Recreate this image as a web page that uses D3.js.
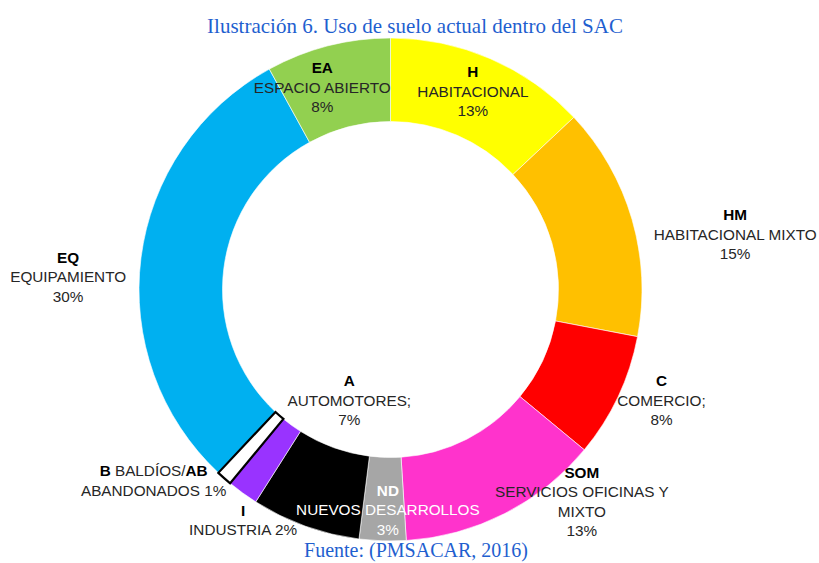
<!DOCTYPE html>
<html>
<head>
<meta charset="utf-8">
<script src="https://cdn.jsdelivr.net/npm/d3@7"></script>
<style>
  body { margin: 0; background: #fff; }
  svg { display: block; }
</style>
</head>
<body>
<svg id="drawing_region"></svg>
<script>
// data, clockwise from the top
const codes  = ["H", "HM", "C", "SOM", "ND", "A", "I", "AB", "EQ", "EA"];
const names  = ["HABITACIONAL", "HABITACIONAL MIXTO", "COMERCIO;", "SERVICIOS OFICINAS Y|MIXTO",
                "NUEVOS DESARROLLOS", "AUTOMOTORES;", "INDUSTRIA", "BALDÍOS/|ABANDONADOS", "EQUIPAMIENTO", "ESPACIO ABIERTO"];
const values = [13, 15, 8, 13, 3, 7, 2, 1, 30, 8];
const colors = ["#FFFF00", "#FFC000", "#FF0000", "#FF33CC", "#A6A6A6", "#000000", "#9933FF", "#FFFFFF", "#00B0F0", "#92D050"];

const title  = "Ilustración 6. Uso de suelo actual dentro del SAC";
const source = "Fuente: (PMSACAR, 2016)";

const width = 819, height = 563;
const cx = 390.5, cy = 289.5;
const outer = 251.5, inner = 168;

// label nudges from slice centroid (first line), hand tuned like the excel layout
const nudge = [[-1,-25],[143,-16],[81,2],[96,-4],[4,-9],[30,-106],[-24,51],[-98,24],[-114,-6],[-16,-18]];

const data = codes.map((c, i) => ({ code: c, name: names[i], value: values[i], color: colors[i] }));

const svg = d3.select('#drawing_region')
    .attr('width', width)
    .attr('height', height);

svg.append('text')
    .attr('x', 415).attr('y', 33)
    .attr('text-anchor', 'middle')
    .style('font-family', '"Liberation Serif", "Times New Roman", serif')
    .style('font-size', '21px')
    .attr('fill', '#1F5FCF')
    .text(title);

svg.append('text')
    .attr('x', 416).attr('y', 557)
    .attr('text-anchor', 'middle')
    .style('font-family', '"Liberation Serif", "Times New Roman", serif')
    .style('font-size', '20px')
    .attr('fill', '#1F5FCF')
    .text(source);

const chart = svg.append('g')
    .attr('transform', `translate(${cx}, ${cy})`);

const pie = d3.pie().value(d => d.value).sort(null);
const arc = d3.arc().innerRadius(inner).outerRadius(outer);
const mid = d3.arc().innerRadius(210).outerRadius(210);

const arcs = pie(data);

chart.selectAll('path')
    .data(arcs)
    .enter()
    .append('path')
    .attr('d', arc)
    .attr('fill', d => d.data.color)
    .attr('stroke', d => d.data.code === 'AB' ? '#000' : '#fff')
    .style('stroke-width', d => d.data.code === 'AB' ? '2.2px' : '0.6px');

// draw the boxed slice last so its border is on top
chart.selectAll('path').filter(d => d.data.code === 'AB').raise();

const font = '"Liberation Sans", Arial, sans-serif';
const lh = 19.5;

const labels = chart.selectAll('.lab')
    .data(arcs)
    .enter()
    .append('text')
    .attr('class', 'lab')
    .attr('text-anchor', 'middle')
    .style('font-family', font)
    .style('font-size', '15.3px')
    .attr('fill', d => d.data.code === 'ND' ? '#fff' : '#262626')
    .attr('transform', (d, i) => {
        const c = mid.centroid(d);
        return `translate(${c[0] + nudge[i][0]}, ${c[1] + nudge[i][1]})`;
    });

labels.each(function(d) {
    const t = d3.select(this);
    const pct = d.data.value + '%';
    const parts = d.data.name.split('|');
    let lines;
    if (d.data.code === 'AB') {
        // B BALDÍOS/AB  /  ABANDONADOS 1%
        lines = [[['B', true], [' ' + parts[0], false], ['AB', true]], [[parts[1] + ' ' + pct, false]]];
    } else if (d.data.code === 'I') {
        lines = [[[d.data.code, true]], [[parts[0] + ' ' + pct, false]]];
    } else {
        lines = [[[d.data.code, true]]].concat(parts.map(p => [[p, false]])).concat([[[pct, false]]]);
    }
    lines.forEach((ln, k) => {
        ln.forEach((seg, j) => {
            const ts = t.append('tspan')
                .attr('dy', j === 0 ? (k === 0 ? '0.35em' : lh) : null)
                .style('font-weight', seg[1] ? 'bold' : 'normal')
                .text(seg[0]);
            if (j === 0) ts.attr('x', 0);
            if (seg[1]) ts.attr('fill', d.data.code === 'ND' ? '#fff' : '#000');
        });
    });
});
</script>
</body>
</html>
